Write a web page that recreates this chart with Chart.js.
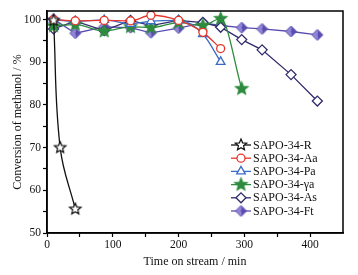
<!DOCTYPE html>
<html>
<head>
<meta charset="utf-8">
<script src="https://cdn.jsdelivr.net/npm/chart.js@4.4.1/dist/chart.umd.min.js"></script>
<style>
  html, body { margin: 0; padding: 0; background: #fff; }
  #wrap { width: 358px; height: 275px; }
</style>
</head>
<body>
<div id="wrap"><canvas id="chart" width="358" height="275"></canvas></div>
<script>
// time on stream (min) and conversion (%) for each sample
const timeR = [10, 20, 43];
const convR = [99.8, 70, 55.6];

const timeAa = [10, 43, 87, 127, 158, 200, 237, 264];
const convAa = [100, 99.7, 99.8, 99.7, 101, 99.8, 97.0, 93.2];

const timePa = [10, 43, 87, 127, 158, 200, 237, 264];
const convPa = [100, 99.6, 99.9, 99.0, 99.6, 99.8, 96.6, 90.1];

const timeGa = [10, 43, 87, 127, 158, 200, 237, 264, 296];
const convGa = [98.5, 98.8, 97.3, 98.3, 98.1, 99.3, 98.6, 100.2, 83.8];

const timeAs = [10, 43, 87, 127, 158, 200, 237, 264, 296, 327, 371, 411];
const convAs = [97.8, 99.6, 97.4, 99.8, 98.6, 99.8, 99.3, 98.2, 95.3, 92.9, 87.1, 80.9];

const timeFt = [10, 43, 87, 127, 158, 200, 237, 264, 296, 327, 371, 411];
const convFt = [100.1, 96.8, 98.3, 98.1, 96.9, 98.0, 99.2, 98.6, 98.1, 97.8, 97.2, 96.4];

const xTicks = [0, 50, 100, 150, 200, 250, 300, 350, 400];
const yTicks = [50, 55, 60, 65, 70, 75, 80, 85, 90, 95, 100];

const serif = "'Liberation Serif', 'DejaVu Serif', serif";

// 5-pointed star drawn on a small canvas (Chart.js 'star' is an asterisk)
function makeStar(r, fill, stroke) {
    const s = Math.ceil(r * 2 + 4);
    const c = document.createElement("canvas");
    c.width = s; c.height = s;
    const g = c.getContext("2d");
    g.beginPath();
    for (let i = 0; i < 10; i++) {
        const rr = i % 2 === 0 ? r : r * 0.45;
        const a = -Math.PI / 2 + i * Math.PI / 5;
        const px = s / 2 + rr * Math.cos(a);
        const py = s / 2 + rr * Math.sin(a);
        if (i === 0) g.moveTo(px, py); else g.lineTo(px, py);
    }
    g.closePath();
    g.fillStyle = fill;
    g.fill();
    g.lineWidth = 1.2;
    g.strokeStyle = stroke;
    g.stroke();
    return c;
}

// diamond with two shaded halves for SAPO-34-Ft
function makeHalfDiamond(r, light, dark) {
    const s = Math.ceil(r * 2 + 4);
    const c = document.createElement("canvas");
    c.width = s; c.height = s;
    const g = c.getContext("2d");
    const m = s / 2;
    g.beginPath();
    g.moveTo(m, m - r); g.lineTo(m, m + r); g.lineTo(m - r, m); g.closePath();
    g.fillStyle = light; g.fill();
    g.beginPath();
    g.moveTo(m, m - r); g.lineTo(m + r, m); g.lineTo(m, m + r); g.closePath();
    g.fillStyle = dark; g.fill();
    g.beginPath();
    g.moveTo(m, m - r); g.lineTo(m + r, m); g.lineTo(m, m + r); g.lineTo(m - r, m); g.closePath();
    g.lineWidth = 1; g.strokeStyle = dark; g.stroke();
    return c;
}

function pts(xs, ys) {
    return xs.map((x, i) => ({ x: x, y: ys[i] }));
}

const starOpen = makeStar(6, "#ffffff", "#111111");
const starGreen = makeStar(6.5, "#2e8b3e", "#2e8b3e");
const halfDiamond = makeHalfDiamond(5.5, "#8f86d8", "#5a4cb0");

const datasets = [
    { label: "SAPO-34-R", data: pts(timeR, convR), borderColor: "#111111", backgroundColor: "#ffffff",
      pointStyle: starOpen, tension: 0.4 },
    { label: "SAPO-34-Aa", data: pts(timeAa, convAa), borderColor: "#e8352b", backgroundColor: "#ffffff",
      pointStyle: "circle", pointRadius: 4, cubicInterpolationMode: "monotone" },
    { label: "SAPO-34-Pa", data: pts(timePa, convPa), borderColor: "#3a6cc6", backgroundColor: "#ffffff",
      pointStyle: "triangle", pointRadius: 5, cubicInterpolationMode: "monotone" },
    { label: "SAPO-34-γa", data: pts(timeGa, convGa), borderColor: "#2e8b3e", backgroundColor: "#2e8b3e",
      pointStyle: starGreen, cubicInterpolationMode: "monotone" },
    { label: "SAPO-34-As", data: pts(timeAs, convAs), borderColor: "#2f2b6b", backgroundColor: "#ffffff",
      pointStyle: "rectRot", pointRadius: 5 },
    { label: "SAPO-34-Ft", data: pts(timeFt, convFt), borderColor: "#5a4cb0", backgroundColor: "#5a4cb0",
      pointStyle: halfDiamond }
];
datasets.forEach(d => {
    d.borderWidth = 1.3;
    d.pointBorderWidth = 1.3;
    d.pointBackgroundColor = d.backgroundColor;
    d.pointBorderColor = d.borderColor;
    if (d.pointRadius === undefined) d.pointRadius = 5;
});

// frame round the plot area + legend inside it
const framePlugin = {
    id: "frame",
    afterDraw(chart) {
        const ctx = chart.ctx;
        const a = chart.chartArea;
        ctx.save();
        ctx.strokeStyle = "#000";
        ctx.lineWidth = 1.5;
        ctx.strokeRect(a.left, a.top, a.right - a.left, a.bottom - a.top);

        const x0 = 231, y0 = 145, step = 13.2;
        ctx.font = "12px " + serif;
        ctx.textBaseline = "middle";
        chart.data.datasets.forEach((d, i) => {
            const y = y0 + i * step;
            ctx.strokeStyle = d.borderColor;
            ctx.lineWidth = d.borderWidth;
            ctx.beginPath();
            ctx.moveTo(x0, y);
            ctx.lineTo(x0 + 20, y);
            ctx.stroke();
            ctx.fillStyle = d.backgroundColor;
            Chart.helpers.drawPoint(ctx, {
                pointStyle: d.pointStyle, radius: d.pointRadius,
                borderWidth: d.pointBorderWidth, rotation: 0
            }, x0 + 10, y);
            ctx.fillStyle = "#111";
            ctx.fillText(d.label, x0 + 22, y + 0.5);
        });
        ctx.restore();
    }
};

new Chart(document.getElementById("chart").getContext("2d"), {
    type: "line",
    data: { datasets: datasets },
    options: {
        responsive: false,
        animation: false,
        layout: { padding: { top: 11, right: 15, left: 0, bottom: 0 } },
        plugins: { legend: { display: false }, tooltip: { enabled: false } },
        scales: {
            x: {
                type: "linear", min: 0, max: 450,
                afterFit: s => { s.height = 42; },
                afterBuildTicks: axis => { axis.ticks = xTicks.map(v => ({ value: v })); },
                grid: { drawOnChartArea: false, tickLength: 4, color: "#000", tickWidth: 1.2 },
                border: { color: "#000", width: 1.5 },
                ticks: {
                    color: "#111", padding: 1, maxRotation: 0, autoSkip: false,
                    font: { family: serif, size: 11.5 },
                    callback: v => (v % 100 === 0 ? v : "")
                },
                title: { display: true, text: "Time on stream / min", color: "#111",
                         font: { family: serif, size: 12 }, padding: { top: 0, bottom: 6 } }
            },
            y: {
                min: 50, max: 102,
                afterFit: s => { s.width = 47; },
                afterBuildTicks: axis => { axis.ticks = yTicks.map(v => ({ value: v })); },
                grid: { drawOnChartArea: false, tickLength: 4, color: "#000", tickWidth: 1.2 },
                border: { color: "#000", width: 1.5 },
                ticks: {
                    color: "#111", padding: 2, autoSkip: false,
                    font: { family: serif, size: 11.5 },
                    callback: v => (v % 10 === 0 ? v : "")
                },
                title: { display: true, text: "Conversion of methanol / %", color: "#111",
                         font: { family: serif, size: 12 }, padding: { top: 11, bottom: 0 } }
            }
        }
    },
    plugins: [framePlugin]
});
</script>
</body>
</html>
